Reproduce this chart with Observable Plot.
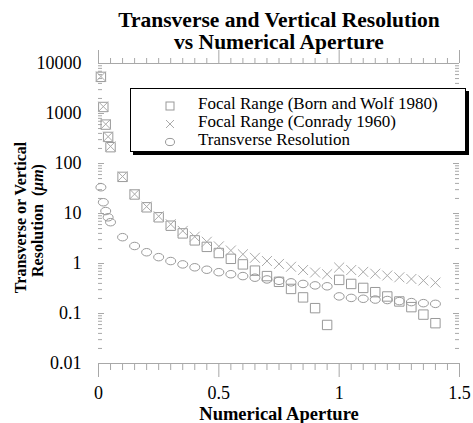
<!DOCTYPE html>
<html>
<head>
<meta charset="utf-8">
<script src="https://cdn.jsdelivr.net/npm/d3@7"></script>
<script src="https://cdn.jsdelivr.net/npm/@observablehq/plot@0.6"></script>
<style>
  body { margin: 0; background: #fff; }
  #wrap { position: relative; width: 473px; height: 423px; font-family: "Liberation Serif", "Times New Roman", serif; }
  #wrap svg text { font-family: "Liberation Serif", "Times New Roman", serif; font-variant-numeric: normal; }
  #legend { position: absolute; left: 130px; top: 88px; width: 334px; height: 62px; border: 1.5px solid #000; box-shadow: 3px 3px 0 #000; background: #fff; font-size: 17px; }
  #legend .sym { position: absolute; left: 33px; }
  #legend .lab { position: absolute; left: 67px; line-height: 17px; white-space: nowrap; color: #000; }
</style>
</head>
<body>
<div id="wrap"><div id="legend"></div></div>
<script>
// ---- data ----
const numericalAperture = [0.01, 0.02, 0.03, 0.04, 0.05, 0.1, 0.15, 0.2, 0.25, 0.3, 0.35, 0.4, 0.45, 0.5, 0.55, 0.6, 0.65, 0.7, 0.75, 0.8, 0.85, 0.9, 0.95, 1.0, 1.05, 1.1, 1.15, 1.2, 1.25, 1.3, 1.35, 1.4];
const bornWolf = [5400, 1350, 600, 340, 212, 54, 24, 13.3, 8.4, 5.7, 4.0, 2.9, 2.15, 1.62, 1.24, 0.96, 0.72, 0.56, 0.43, 0.31, 0.21, 0.128, 0.059, 0.47, 0.39, 0.325, 0.267, 0.219, 0.174, 0.134, 0.095, 0.064];
const conrady = [5500, 1375, 611, 344, 220, 55, 24.4, 13.75, 8.8, 6.1, 4.49, 3.44, 2.72, 2.2, 1.82, 1.53, 1.3, 1.12, 0.98, 0.86, 0.74, 0.66, 0.61, 0.83, 0.74, 0.68, 0.625, 0.575, 0.53, 0.49, 0.457, 0.415];
const transverse = [33.5, 16.8, 11.2, 8.4, 6.7, 3.36, 2.24, 1.68, 1.34, 1.12, 0.96, 0.84, 0.75, 0.67, 0.61, 0.56, 0.52, 0.48, 0.45, 0.42, 0.39, 0.365, 0.35, 0.22, 0.205, 0.197, 0.19, 0.186, 0.177, 0.169, 0.161, 0.156];
const seriesNames = ["Focal Range (Born and Wolf 1980)", "Focal Range (Conrady 1960)", "Transverse Resolution"];
const yTicks = [10000, 1000, 100, 10, 1, 0.1, 0.01];
const yTickLabels = ["10000", "1000", "100", "10", "1", "0.1", "0.01"];
const xTicks = [0, 0.5, 1, 1.5];
const xTickLabels = ["0", "0.5", "1", "1.5"];

const rows = numericalAperture.map((na, i) => ({na, bw: bornWolf[i], con: conrady[i], tr: transverse[i]}));

const xMinor = d3.range(0, 31).map(i => i * 0.05).filter(v => !xTicks.some(t => Math.abs(t - v) < 1e-9));
const yMinor = [];
for (let e = -2; e < 4; e++) for (let m = 2; m <= 9; m++) yMinor.push(m * Math.pow(10, e));

const ML = 98, MR = 14, MT = 63, MB = 60, W = 473, H = 423;
const PW = W - ML - MR, PH = H - MT - MB;
const axisColor = "#a8a8a8";
const markColor = "#999";
const serif = "'Liberation Serif', 'Times New Roman', serif";

const ellipse = {
  draw(ctx, size) {
    const rx = Math.sqrt(size / Math.PI), ry = rx * 0.75, k = 0.5523;
    ctx.moveTo(rx, 0);
    ctx.bezierCurveTo(rx, ry * k, rx * k, ry, 0, ry);
    ctx.bezierCurveTo(-rx * k, ry, -rx, ry * k, -rx, 0);
    ctx.bezierCurveTo(-rx, -ry * k, -rx * k, -ry, 0, -ry);
    ctx.bezierCurveTo(rx * k, -ry, rx, -ry * k, rx, 0);
    ctx.closePath();
  }
};

const chart = Plot.plot({
  width: W, height: H,
  marginLeft: ML, marginRight: MR, marginTop: MT, marginBottom: MB,
  x: {domain: [0, 1.5]},
  y: {type: "log", domain: [0.01, 10000]},
  style: {fontFamily: serif, fontSize: "18px", background: "#fff", color: "#000"},
  marks: [
    // frame
    Plot.ruleY([0.01], {stroke: axisColor}),
    Plot.ruleY([10000], {stroke: axisColor}),
    // x ticks bottom / top
    Plot.tickX(xMinor, {x: d => d, stroke: axisColor, insetTop: PH, insetBottom: -7}),
    Plot.tickX(xTicks, {x: d => d, stroke: axisColor, insetTop: PH, insetBottom: -14}),
    Plot.tickX(xMinor, {x: d => d, stroke: axisColor, insetTop: -5, insetBottom: PH}),
    Plot.tickX(xTicks, {x: d => d, stroke: axisColor, insetTop: -13, insetBottom: PH}),
    // y ticks left / right (inward)
    Plot.tickY(yMinor, {y: d => d, stroke: axisColor, insetRight: PW - 4}),
    Plot.tickY(yTicks, {y: d => d, stroke: axisColor, insetRight: PW - 6}),
    Plot.tickY(yMinor, {y: d => d, stroke: axisColor, insetLeft: PW - 4}),
    Plot.tickY(yTicks, {y: d => d, stroke: axisColor, insetLeft: PW - 6}),
    // tick labels
    Plot.axisY({ticks: yTicks, tickFormat: d => yTickLabels[yTicks.indexOf(d)], tickSize: 0, tickPadding: 17, label: null, fill: "#000", fontFamily: serif, fontSize: 18}),
    Plot.axisX({ticks: xTicks, tickFormat: d => xTickLabels[xTicks.indexOf(d)], tickSize: 0, tickPadding: 23, label: null, fill: "#000", fontFamily: serif, fontSize: 18}),
    // data
    Plot.dot(rows, {x: "na", y: "bw", symbol: "square", r: 5.3, stroke: markColor, fill: "none", strokeWidth: 1}),
    Plot.dot(rows, {x: "na", y: "con", symbol: "times", r: 4.6, stroke: "#aaa", fill: "none", strokeWidth: 1}),
    Plot.dot(rows, {x: "na", y: "tr", symbol: ellipse, r: 5, stroke: markColor, fill: "none", strokeWidth: 1}),
    // titles
    Plot.text(["Transverse and Vertical Resolution"], {frameAnchor: "top", dy: -37, lineAnchor: "bottom", fontSize: 21.5, fontWeight: "bold", fill: "#000", fontFamily: serif}),
    Plot.text(["vs Numerical Aperture"], {frameAnchor: "top", dy: -15, lineAnchor: "bottom", fontSize: 21.5, fontWeight: "bold", fill: "#000", fontFamily: serif}),
    Plot.text(["Numerical Aperture"], {frameAnchor: "bottom", dy: 56, lineAnchor: "bottom", fontSize: 18.5, fontWeight: "bold", fill: "#000", fontFamily: serif}),
    Plot.text(["Transverse or Vertical"], {frameAnchor: "left", textAnchor: "middle", dx: -73, dy: 4, rotate: -90, lineAnchor: "bottom", fontSize: 16, fontWeight: "bold", fill: "#000", fontFamily: serif}),
    Plot.text(["Resolution (μm)"], {frameAnchor: "left", textAnchor: "middle", dx: -56, dy: 7, rotate: -90, lineAnchor: "bottom", fontSize: 16, fontWeight: "bold", fill: "#000", fontFamily: serif})
  ]
});

// italic μm in the y title
d3.select(chart).selectAll("text").each(function () {
  if (this.textContent === "Resolution (μm)") {
    const t = d3.select(this);
    t.text(null);
    t.append("tspan").text("Resolution  (");
    t.append("tspan").attr("font-style", "italic").text("μm");
    t.append("tspan").text(")");
  }
});

const wrap = document.getElementById("wrap");
wrap.insertBefore(chart, wrap.firstChild);

// legend
const legend = document.getElementById("legend");
const symbols = [
  '<rect x="2" y="2" width="8" height="8" fill="none" stroke="#999"/>',
  '<path d="M2,2L10,10M10,2L2,10" fill="none" stroke="#aaa"/>',
  '<ellipse cx="6" cy="6" rx="4.5" ry="3.6" fill="none" stroke="#999"/>'
];
seriesNames.forEach((name, i) => {
  const top = 6 + i * 18;
  const s = document.createElement("div");
  s.className = "sym";
  s.style.top = (top + 2) + "px";
  s.innerHTML = '<svg width="12" height="12">' + symbols[i] + '</svg>';
  legend.appendChild(s);
  const l = document.createElement("div");
  l.className = "lab";
  l.style.top = top + "px";
  l.textContent = name;
  legend.appendChild(l);
});
</script>
</body>
</html>
